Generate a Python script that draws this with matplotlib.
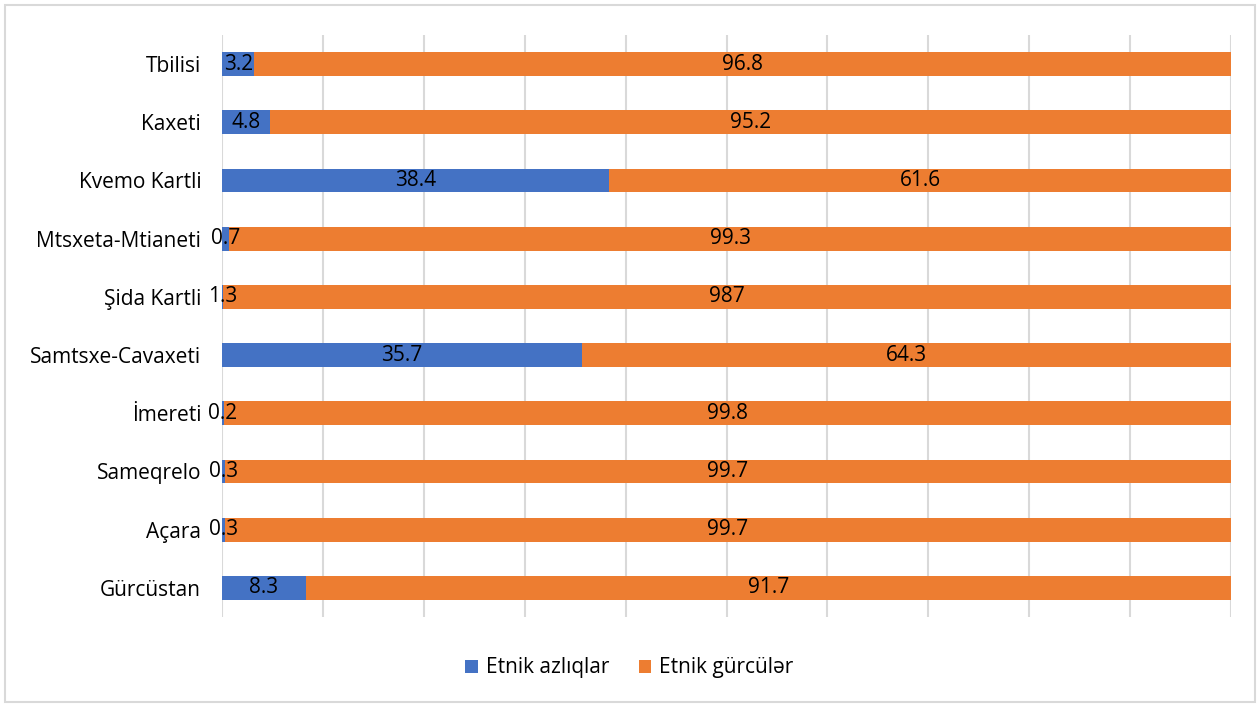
import matplotlib.pyplot as plt
import numpy as np
from matplotlib.patches import Rectangle

regions = ['Tbilisi', 'Kaxeti', 'Kvemo Kartli', 'Mtsxeta-Mtianeti', 'Şida Kartli',
           'Samtsxe-Cavaxeti', 'İmereti', 'Sameqrelo', 'Açara', 'Gürcüstan']
# raw values as entered in the source (Şida Kartli's second value is 987)
minorities = [3.2, 4.8, 38.4, 0.7, 1.3, 35.7, 0.2, 0.3, 0.3, 8.3]
georgians = [96.8, 95.2, 61.6, 99.3, 987, 64.3, 99.8, 99.7, 99.7, 91.7]

blue = '#4472C4'
orange = '#ED7D31'
fs = 15

plt.rcParams['font.family'] = ['Open Sans', 'DejaVu Sans']

# 100% stacked: shares of each row's total
mino = np.array(minorities)
geo = np.array(georgians)
total = mino + geo
mino_pct = mino / total * 100
geo_pct = geo / total * 100

fig = plt.figure(figsize=(12.59, 7.04), dpi=100)
ax = fig.add_axes([222 / 1259, 1 - 617 / 704, (1231 - 222) / 1259, (617 - 35) / 704])

y = np.arange(len(regions))
h = 0.41
ax.barh(y, mino_pct, height=h, color=blue, label='Etnik azlıqlar', zorder=3)
ax.barh(y, geo_pct, left=mino_pct, height=h, color=orange, label='Etnik gürcülər', zorder=3)

for i in range(len(regions)):
    ax.text(mino_pct[i] / 2, y[i], f'{minorities[i]:g}', ha='center', va='center',
            fontsize=fs, color='#000000', zorder=4)
    ax.text(mino_pct[i] + geo_pct[i] / 2, y[i], f'{georgians[i]:g}', ha='center',
            va='center', fontsize=fs, color='#000000', zorder=4)

ax.set_xlim(0, 100)
ax.set_ylim(len(regions) - 0.5, -0.5)
ax.set_xticks(np.arange(0, 101, 10))
ax.set_xticklabels([])
ax.set_yticks(y)
ax.set_yticklabels(regions, fontsize=fs)
ax.tick_params(axis='both', length=0)
ax.tick_params(axis='y', pad=15)
ax.grid(axis='x', color='#D9D9D9', linewidth=1.5, zorder=0)
for s in ax.spines.values():
    s.set_visible(False)

fig.legend(loc='center', bbox_to_anchor=(0.5, 1 - 668 / 704), ncol=2, frameon=False,
           fontsize=fs, handlelength=0.6, handleheight=0.6, columnspacing=1.4,
           handletextpad=0.4)

fig.patches.append(Rectangle((5 / 1259, 2 / 704), 1250 / 1259, 697 / 704, transform=fig.transFigure,
                             fill=False, edgecolor='#D9D9D9', linewidth=1.5))

fig.savefig('out.png', dpi=100, facecolor='white')
